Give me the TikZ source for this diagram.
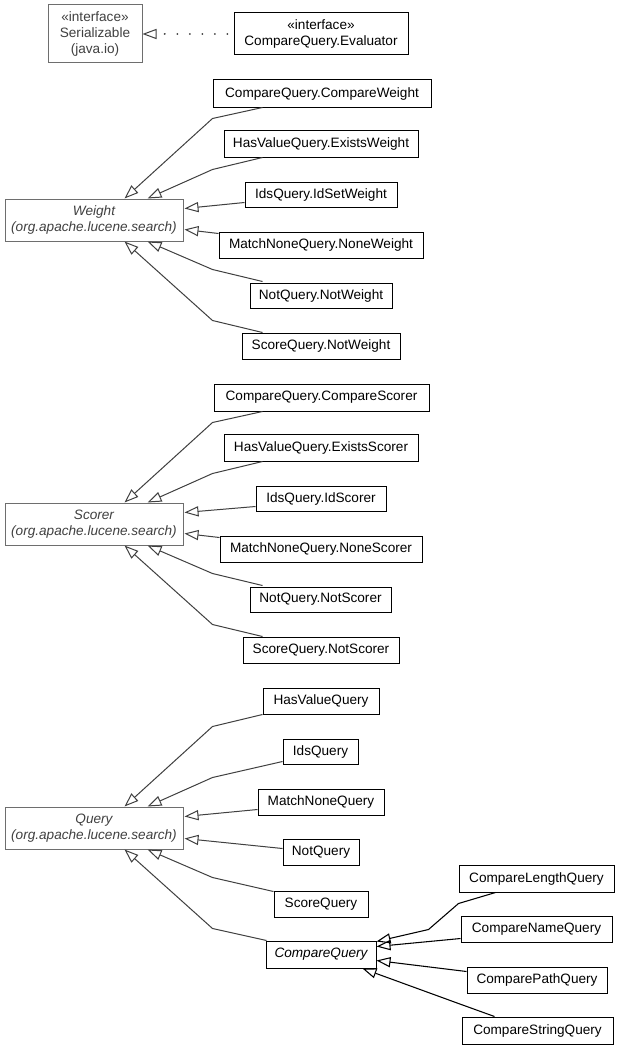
\documentclass[tikz,border=0pt]{standalone}
\usepackage{fontspec}
\setmainfont{Liberation Sans}
\usetikzlibrary{arrows.meta,calc}
\definecolor{gline}{HTML}{404040}
\definecolor{gtext}{HTML}{404040}
\definecolor{gbord}{HTML}{6E6E6E}
\tikzset{
  cls/.style={draw=black, line width=0.75pt, inner sep=0pt, align=center,
    font=\fontsize{10.2}{12}\selectfont, text=black},
  ext/.style={draw=gbord, text=gtext},
  gen/.style={draw=gline, line width=0.75pt,
    -{Triangle[open, length=10.5pt, width=7.6pt, line width=0.75pt]}},
  genb/.style={draw=black, line width=0.8pt,
    -{Triangle[open, length=10.5pt, width=7.6pt, line width=0.8pt]}},
  real/.style={draw=gline, line width=1.5pt, line cap=round, dash pattern=on 0.01pt off 9.4pt, dash phase=4.9pt,
    -{Triangle[open, length=10.5pt, width=7.6pt, line width=0.75pt, line cap=butt]}},
}
\newcommand\cbox[7][]{\node[cls,#1,minimum width={(#5-#3)*0.75pt},minimum height={(#6-#4)*0.75pt}] (#2) at ({(#3+#5)/2},{(#4+#6)/2}) {#7};}
\begin{document}
\begin{tikzpicture}[x=0.75pt,y=-0.75pt]
\useasboundingbox[fill=white] (0,0) rectangle (621,1049);
% interfaces
\cbox[ext]{ser}{48}{5}{142}{63}{«interface»\\Serializable\\(java.io)}
\cbox{eval}{234}{13}{408}{55}{«interface»\\CompareQuery.Evaluator}
\draw[real] (eval.west) -- (ser.east);
% Weight section
\cbox{cw}{213}{80}{431}{107}{CompareQuery.CompareWeight}
\cbox{ew}{224}{130}{418}{157}{HasValueQuery.ExistsWeight}
\cbox{iw}{245}{182}{397}{207}{IdsQuery.IdSetWeight}
\cbox[ext]{weight}{5}{199}{183}{241}{\itshape Weight\\\itshape (org.apache.lucene.search)}
\cbox{nw}{219}{232}{423}{258}{MatchNoneQuery.NoneWeight}
\cbox{notw}{250}{283}{392}{308}{NotQuery.NotWeight}
\cbox{snw}{242}{333}{400}{359}{ScoreQuery.NotWeight}
\draw[gen] ($(cw.south west)+(50,0)$) -- ($(cw.south west)+(0,11)$) -- ($(weight.north west)+(120,0)$);
\draw[gen] ($(ew.south west)+(39,0)$) -- ($(ew.south west)+(-11,12)$) -- ($(weight.north west)+(143,0)$);
\draw[gen] ($(iw.north west)+(0,21)$) -- ($(weight.north east)+(1,10)$);
\draw[gen] ($(nw.north west)+(0,2)$) -- ($(weight.north east)+(1,31)$);
\draw[gen] ($(notw.north west)+(13,-1)$) -- ($(notw.north west)+(-37,-13)$) -- ($(weight.south west)+(143,0)$);
\draw[gen] ($(snw.north west)+(21,0)$) -- ($(snw.north west)+(-29,-12)$) -- ($(weight.south west)+(120,0)$);
% Scorer section
\cbox{cs}{214}{384}{429}{411}{CompareQuery.CompareScorer}
\cbox{es}{224}{434}{418}{461}{HasValueQuery.ExistsScorer}
\cbox{is}{256}{486}{386}{511}{IdsQuery.IdScorer}
\cbox[ext]{scorer}{5}{503}{183}{545}{\itshape Scorer\\\itshape (org.apache.lucene.search)}
\cbox{ns}{220}{536}{422}{562}{MatchNoneQuery.NoneScorer}
\cbox{nots}{250}{587}{391}{612}{NotQuery.NotScorer}
\cbox{sns}{243}{637}{399}{663}{ScoreQuery.NotScorer}
\draw[gen] ($(cs.south west)+(49,0)$) -- ($(cs.south west)+(-1,11)$) -- ($(scorer.north west)+(120,0)$);
\draw[gen] ($(es.south west)+(39,0)$) -- ($(es.south west)+(-11,12)$) -- ($(scorer.north west)+(143,0)$);
\draw[gen] ($(is.north west)+(0,21)$) -- ($(scorer.north east)+(1,10)$);
\draw[gen] ($(ns.north west)+(0,2)$) -- ($(scorer.north east)+(1,31)$);
\draw[gen] ($(nots.north west)+(13,-1)$) -- ($(nots.north west)+(-37,-13)$) -- ($(scorer.south west)+(143,0)$);
\draw[gen] ($(sns.north west)+(20,0)$) -- ($(sns.north west)+(-30,-12)$) -- ($(scorer.south west)+(120,0)$);
% Query section
\cbox{hvq}{263}{688}{379}{714}{HasValueQuery}
\cbox{idq}{283}{739}{358}{764}{IdsQuery}
\cbox{mnq}{258}{789}{384}{815}{MatchNoneQuery}
\cbox[ext]{query}{5}{807}{183}{849}{\itshape Query\\\itshape (org.apache.lucene.search)}
\cbox{notq}{283}{839}{359}{865}{NotQuery}
\cbox{scq}{274}{891}{368}{917}{ScoreQuery}
\cbox{cq}{266}{941}{376}{968}{\itshape CompareQuery}
\cbox{clq}{459}{865}{614}{892}{CompareLengthQuery}
\cbox{cnq}{461}{916}{612}{942}{CompareNameQuery}
\cbox{cpq}{467}{967}{607}{993}{ComparePathQuery}
\cbox{csq}{462}{1017}{613}{1044}{CompareStringQuery}
\draw[gen] ($(hvq.south west)+(0,0)$) -- ($(hvq.south west)+(-50,12)$) -- ($(query.north west)+(120,0)$);
\draw[gen] ($(idq.south west)+(0,-3)$) -- ($(idq.south west)+(-70,13)$) -- ($(query.north west)+(143,0)$);
\draw[gen] ($(mnq.north west)+(0,21)$) -- ($(query.north east)+(1,10)$);
\draw[gen] ($(notq.north west)+(0,10)$) -- ($(query.north east)+(1,32)$);
\draw[gen] ($(scq.north west)+(0,1)$) -- ($(scq.north west)+(-61,-13)$) -- ($(query.south west)+(143,0)$);
\draw[gen] ($(cq.north west)+(1,0)$) -- ($(cq.north west)+(-53,-12)$) -- ($(query.south west)+(120,0)$);
\draw[genb] ($(clq.south west)+(37,0)$) -- ($(clq.south west)+(0,11)$) -- ($(clq.south west)+(-30,37)$) -- ($(cq.north east)+(0,1)$);
\draw[genb] ($(cnq.north west)+(0,23)$) -- ($(cq.north east)+(0,6)$);
\draw[genb] ($(cpq.north west)+(0,5)$) -- ($(cq.north east)+(0,20)$);
\draw[genb] ($(csq.north west)+(33,0)$) -- ($(csq.north west)+(-3,-13)$) -- ($(cq.south east)+(-14,0)$);
\end{tikzpicture}
\end{document}
